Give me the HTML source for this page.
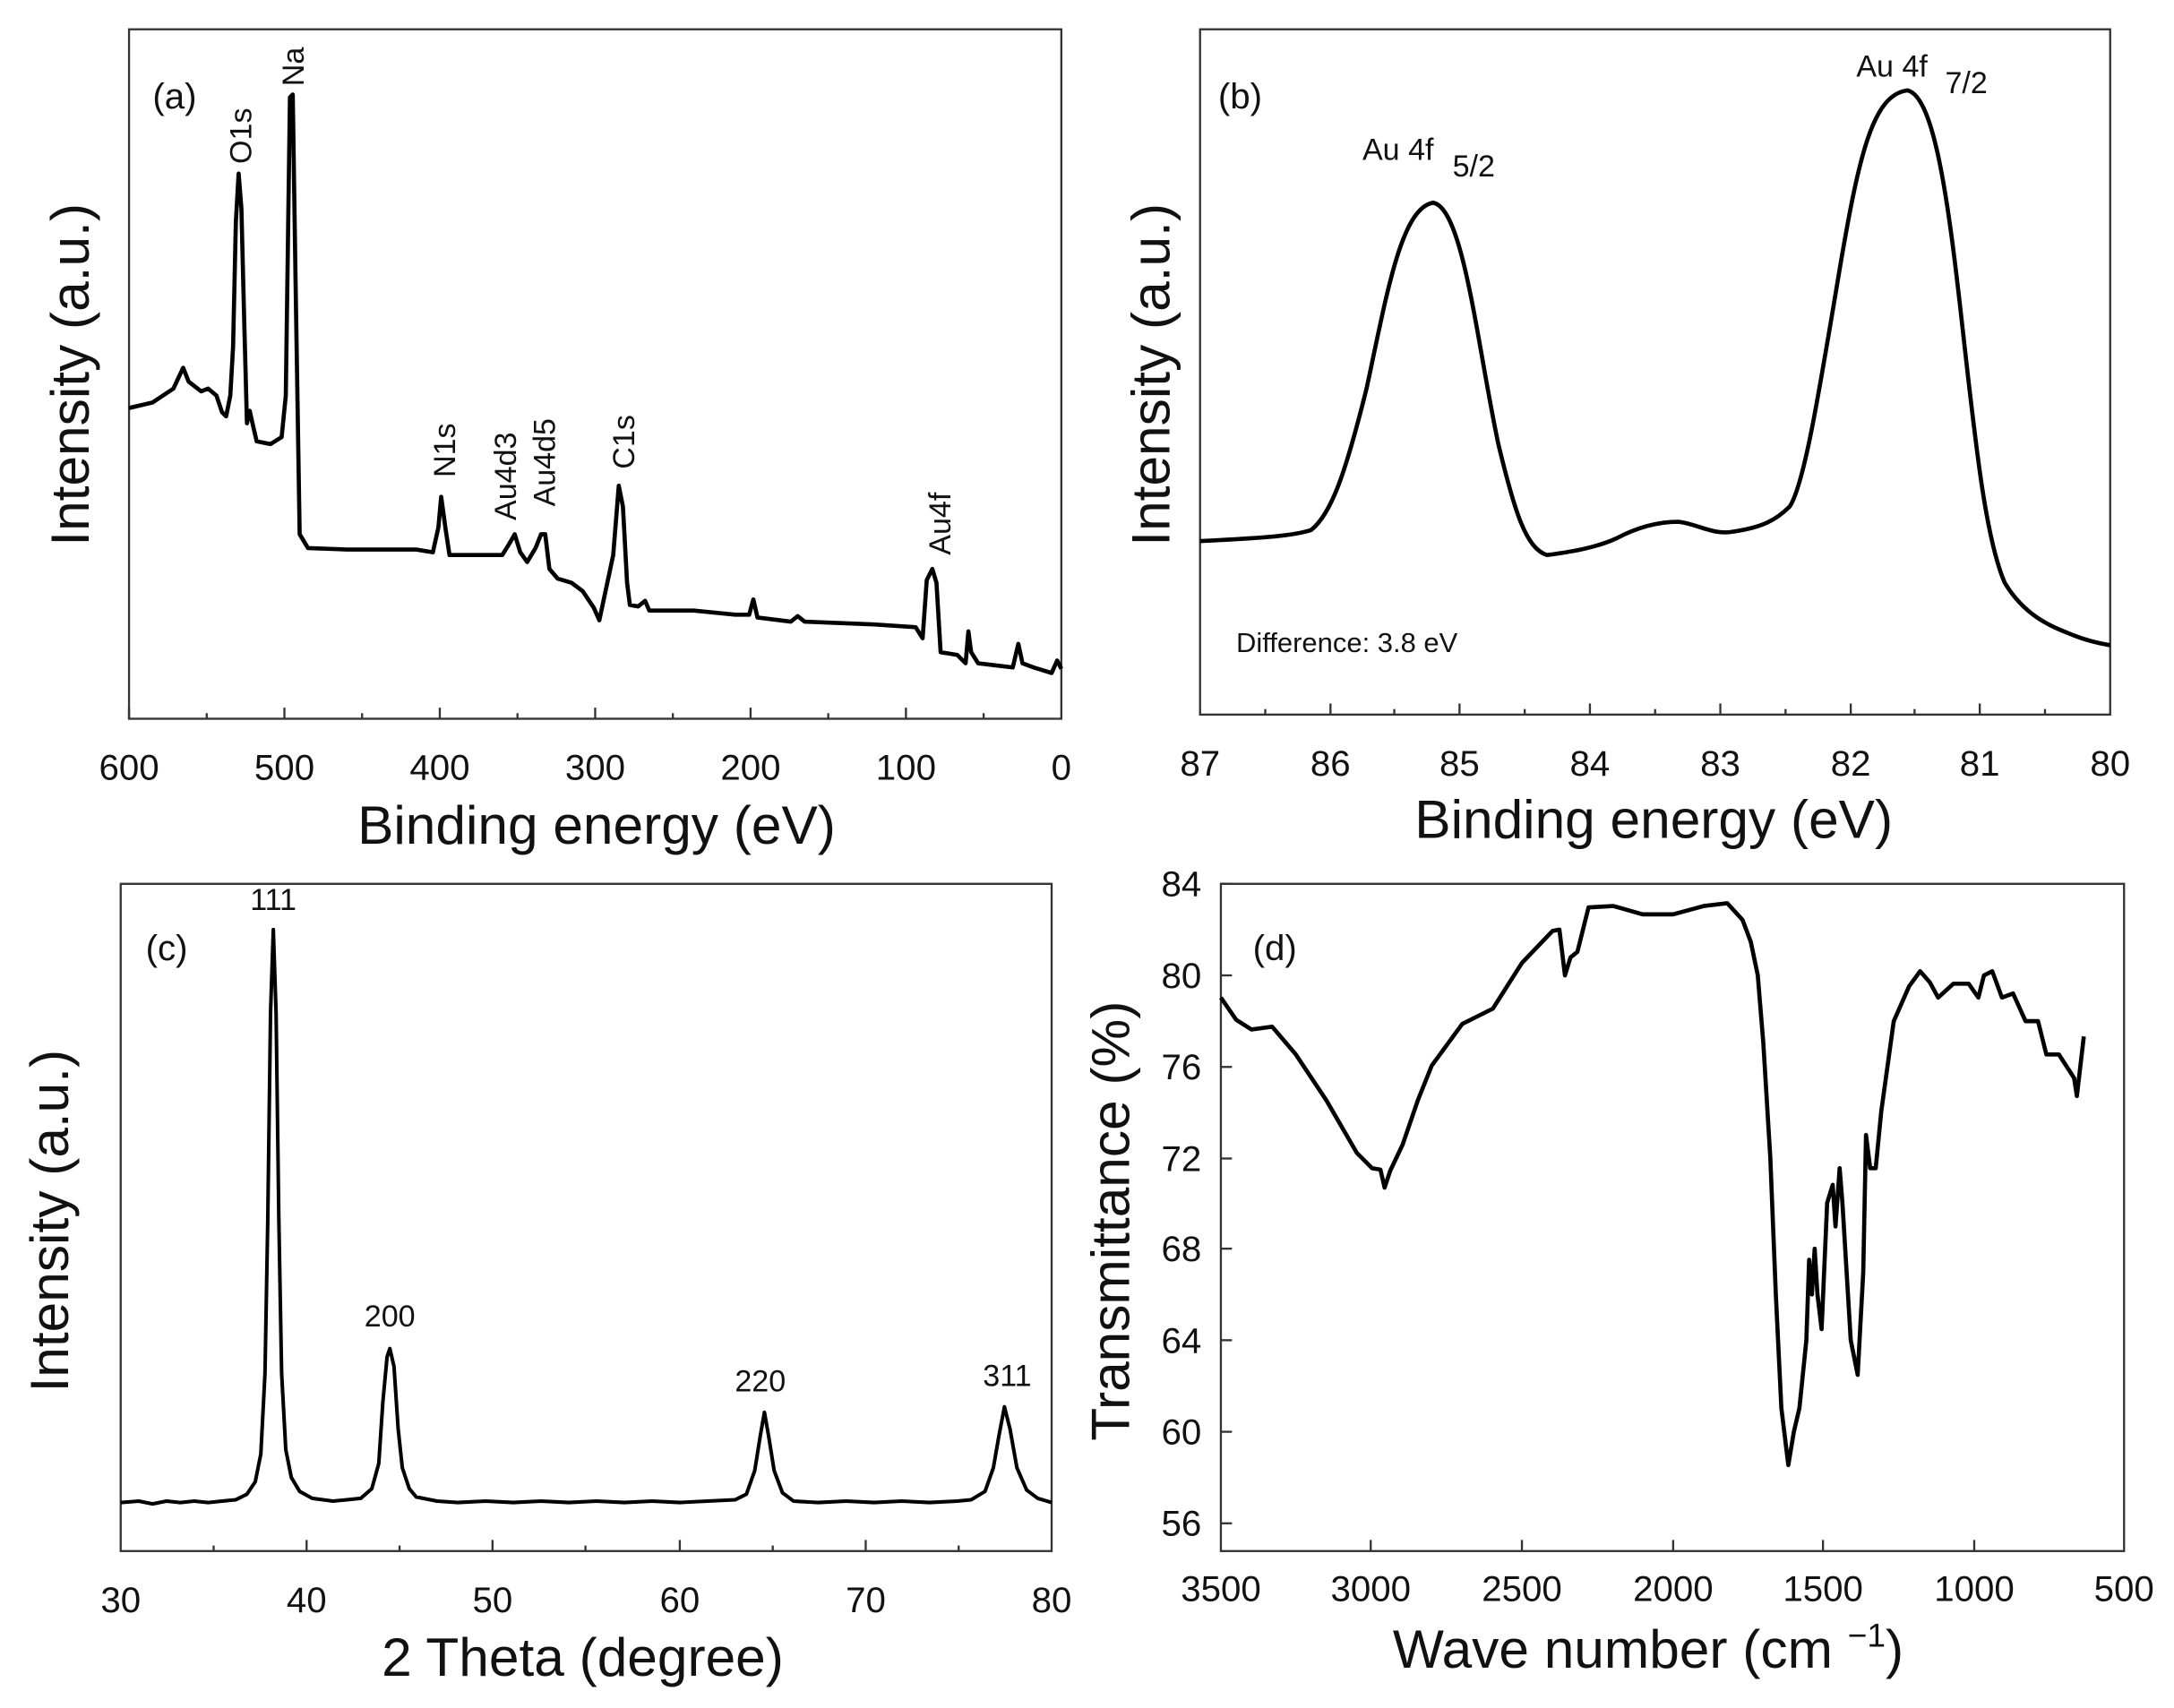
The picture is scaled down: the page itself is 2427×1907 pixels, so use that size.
<!DOCTYPE html>
<html><head><meta charset="utf-8"><style>
html,body{margin:0;padding:0;background:#fff}
svg{display:block}
text{font-family:"Liberation Sans",Arial,sans-serif;fill:#111}
.t{font-size:26px}
.ti{font-size:39px}
.lb{font-size:22px}
.c{fill:none;stroke:#000;stroke-width:3;stroke-linejoin:round}
.ax{fill:none;stroke:#333;stroke-width:1.5}
.tk{stroke:#333;stroke-width:1.5}
</style></head><body>
<svg width="2427" height="1907" viewBox="0 0 1567 1231" xmlns="http://www.w3.org/2000/svg">
<!-- (a) -->
<rect class="ax" x="93" y="21" width="672" height="497"/>
<g class="tk">
<line x1="93" y1="518" x2="93" y2="510"/><line x1="205" y1="518" x2="205" y2="510"/><line x1="317" y1="518" x2="317" y2="510"/><line x1="429" y1="518" x2="429" y2="510"/><line x1="541" y1="518" x2="541" y2="510"/><line x1="653" y1="518" x2="653" y2="510"/>
<line x1="149" y1="518" x2="149" y2="514"/><line x1="261" y1="518" x2="261" y2="514"/><line x1="373" y1="518" x2="373" y2="514"/><line x1="485" y1="518" x2="485" y2="514"/><line x1="597" y1="518" x2="597" y2="514"/><line x1="709" y1="518" x2="709" y2="514"/>
</g>
<g class="t" text-anchor="middle">
<text x="93" y="562">600</text><text x="205" y="562">500</text><text x="317" y="562">400</text><text x="429" y="562">300</text><text x="541" y="562">200</text><text x="653" y="562">100</text><text x="765" y="562">0</text>
</g>
<text class="ti" x="430" y="608" text-anchor="middle">Binding energy (eV)</text>
<text class="ti" transform="translate(64,270) rotate(-90)" text-anchor="middle">Intensity (a.u.)</text>
<text class="t" x="110" y="78">(a)</text>
<g class="lb">
<text transform="translate(181,118) rotate(-90)">O1s</text>
<text transform="translate(219,62) rotate(-90)">Na</text>
<text transform="translate(328,344) rotate(-90)">N1s</text>
<text transform="translate(372,375) rotate(-90)">Au4d3</text>
<text transform="translate(400,365) rotate(-90)">Au4d5</text>
<text transform="translate(457,338) rotate(-90)">C1s</text>
<text transform="translate(685,400) rotate(-90)">Au4f</text>
</g>
<polyline class="c" points="93,294 110,290 125,280 132,265 136,275 145,282 150,280 156,285 160,297 163,300 166,285 168,250 170,160 172,125 174,150 176,230 178,305 180,296 182,305 185,318 195,320 203,315 206,285 209,70 211,68 213,200 216,385 222,395 250,396 300,396 312,398 316,380 318,358 321,380 324,400 345,400 362,400 367,392 371,385 375,398 380,405 386,395 390,385 393,385 396,410 402,417 412,420 420,426 428,438 432,447 442,400 446,350 449,365 452,420 454,436 460,437 465,433 468,440 500,440 530,443 540,443 543,432 546,445 570,448 575,444 580,448 630,450 660,452 665,460 668,418 672,410 675,420 678,470 690,472 696,478 698,455 700,470 705,478 730,481 734,464 737,478 745,481 758,485 762,476 765,482"/>

<!-- (b) -->
<rect class="ax" x="865" y="21" width="656" height="494"/>
<g class="tk">
<line x1="959" y1="515" x2="959" y2="507"/><line x1="1052" y1="515" x2="1052" y2="507"/><line x1="1146" y1="515" x2="1146" y2="507"/><line x1="1240" y1="515" x2="1240" y2="507"/><line x1="1334" y1="515" x2="1334" y2="507"/><line x1="1427" y1="515" x2="1427" y2="507"/>
<line x1="912" y1="515" x2="912" y2="511"/><line x1="1005" y1="515" x2="1005" y2="511"/><line x1="1099" y1="515" x2="1099" y2="511"/><line x1="1193" y1="515" x2="1193" y2="511"/><line x1="1287" y1="515" x2="1287" y2="511"/><line x1="1380" y1="515" x2="1380" y2="511"/><line x1="1474" y1="515" x2="1474" y2="511"/>
</g>
<g class="t" text-anchor="middle">
<text x="865" y="559">87</text><text x="959" y="559">86</text><text x="1052" y="559">85</text><text x="1146" y="559">84</text><text x="1240" y="559">83</text><text x="1334" y="559">82</text><text x="1427" y="559">81</text><text x="1521" y="559">80</text>
</g>
<text class="ti" x="1192" y="604" text-anchor="middle">Binding energy (eV)</text>
<text class="ti" transform="translate(843,270) rotate(-90)" text-anchor="middle">Intensity (a.u.)</text>
<text class="t" x="878" y="78">(b)</text>
<text class="lb" x="982" y="115">Au 4f</text><text class="lb" x="1047" y="127">5/2</text>
<text class="lb" x="1338" y="55">Au 4f</text><text class="lb" x="1402" y="67">7/2</text>
<text x="891" y="470" style="font-size:20px">Difference: 3.8 eV</text>
<path class="c" d="M865,390 C900,388 930,387 945,382 C960,370 970,340 985,280 C1000,210 1010,150 1033,146 C1055,150 1065,250 1080,320 C1092,370 1100,395 1115,400 C1130,398 1150,395 1165,388 C1180,380 1195,376 1210,376 C1225,378 1235,386 1250,383 C1270,380 1280,375 1290,365 C1300,350 1310,290 1325,200 C1340,110 1350,68 1375,65 C1395,70 1405,150 1415,240 C1425,330 1432,390 1445,420 C1460,445 1480,452 1495,458 C1505,462 1515,464 1521,465"/>

<!-- (c) -->
<rect class="ax" x="87" y="637" width="671" height="481"/>
<g class="tk">
<line x1="221" y1="1118" x2="221" y2="1110"/><line x1="355" y1="1118" x2="355" y2="1110"/><line x1="490" y1="1118" x2="490" y2="1110"/><line x1="624" y1="1118" x2="624" y2="1110"/>
<line x1="154" y1="1118" x2="154" y2="1114"/><line x1="288" y1="1118" x2="288" y2="1114"/><line x1="422" y1="1118" x2="422" y2="1114"/><line x1="557" y1="1118" x2="557" y2="1114"/><line x1="691" y1="1118" x2="691" y2="1114"/>
</g>
<g class="t" text-anchor="middle">
<text x="87" y="1162">30</text><text x="221" y="1162">40</text><text x="355" y="1162">50</text><text x="490" y="1162">60</text><text x="624" y="1162">70</text><text x="758" y="1162">80</text>
</g>
<text class="ti" x="420" y="1208" text-anchor="middle">2 Theta (degree)</text>
<text class="ti" transform="translate(49,880) rotate(-90)" text-anchor="middle">Intensity (a.u.)</text>
<text class="t" x="105" y="692">(c)</text>
<g class="lb" text-anchor="middle">
<text x="197" y="656">111</text><text x="281" y="956">200</text><text x="548" y="1003">220</text><text x="726" y="999">311</text>
</g>
<polyline class="c" style="stroke-width:2.6" points="87,1083 100,1082 110,1084 120,1082 130,1083 140,1082 150,1083 160,1082 170,1081 178,1077 184,1068 188,1048 191,990 193,880 195,730 197,670 199,730 201,880 203,990 206,1045 210,1065 216,1075 225,1080 240,1082 250,1081 260,1080 268,1073 273,1055 276,1010 279,978 281,972 284,985 287,1030 290,1058 295,1073 300,1079 315,1082 330,1083 350,1082 370,1083 390,1082 410,1083 430,1082 450,1083 470,1082 490,1083 510,1082 530,1081 538,1077 544,1060 548,1035 551,1018 554,1035 558,1060 564,1076 572,1082 590,1083 610,1082 630,1083 650,1082 670,1083 690,1082 700,1081 710,1075 716,1058 720,1035 724,1014 728,1030 733,1058 740,1074 748,1080 758,1083"/>

<!-- (d) -->
<rect class="ax" x="880" y="637" width="651" height="481"/>
<g class="tk">
<line x1="880" y1="637" x2="888" y2="637"/><line x1="880" y1="703" x2="888" y2="703"/><line x1="880" y1="769" x2="888" y2="769"/><line x1="880" y1="835" x2="888" y2="835"/><line x1="880" y1="900" x2="888" y2="900"/><line x1="880" y1="966" x2="888" y2="966"/><line x1="880" y1="1032" x2="888" y2="1032"/><line x1="880" y1="1098" x2="888" y2="1098"/>
<line x1="988" y1="1118" x2="988" y2="1110"/><line x1="1097" y1="1118" x2="1097" y2="1110"/><line x1="1206" y1="1118" x2="1206" y2="1110"/><line x1="1314" y1="1118" x2="1314" y2="1110"/><line x1="1423" y1="1118" x2="1423" y2="1110"/>
</g>
<g class="t" text-anchor="end">
<text x="866" y="646">84</text><text x="866" y="712">80</text><text x="866" y="778">76</text><text x="866" y="844">72</text><text x="866" y="909">68</text><text x="866" y="975">64</text><text x="866" y="1041">60</text><text x="866" y="1107">56</text>
</g>
<g class="t" text-anchor="middle">
<text x="880" y="1154">3500</text><text x="988" y="1154">3000</text><text x="1097" y="1154">2500</text><text x="1206" y="1154">2000</text><text x="1314" y="1154">1500</text><text x="1423" y="1154">1000</text><text x="1531" y="1154">500</text>
</g>
<text class="ti" x="1188" y="1202" text-anchor="middle">Wave number (cm <tspan dy="-15" style="font-size:24px">−1</tspan><tspan dy="15">)</tspan></text>
<text class="ti" transform="translate(814,880) rotate(-90)" text-anchor="middle">Transmittance (%)</text>
<text class="t" x="903" y="692">(d)</text>
<polyline class="c" points="880,719 891,735 902,742 917,740 934,760 956,793 978,831 989,842 995,843 998,856 1002,844 1011,825 1022,793 1032,768 1054,738 1076,727 1097,694 1119,671 1124,670 1128,703 1132,690 1137,686 1145,654 1163,653 1184,659 1206,659 1228,653 1245,651 1256,663 1262,679 1267,703 1271,752 1276,834 1280,933 1284,1015 1289,1056 1293,1032 1297,1015 1302,966 1304,908 1306,933 1308,900 1310,933 1313,958 1317,867 1321,854 1323,884 1326,842 1328,867 1334,966 1339,991 1343,917 1345,818 1348,842 1352,842 1356,801 1365,736 1376,711 1384,700 1391,708 1397,719 1408,709 1419,709 1426,719 1430,703 1436,700 1443,719 1451,716 1460,736 1469,736 1475,760 1484,760 1495,777 1497,790 1502,747"/>
</svg>
</body></html>
